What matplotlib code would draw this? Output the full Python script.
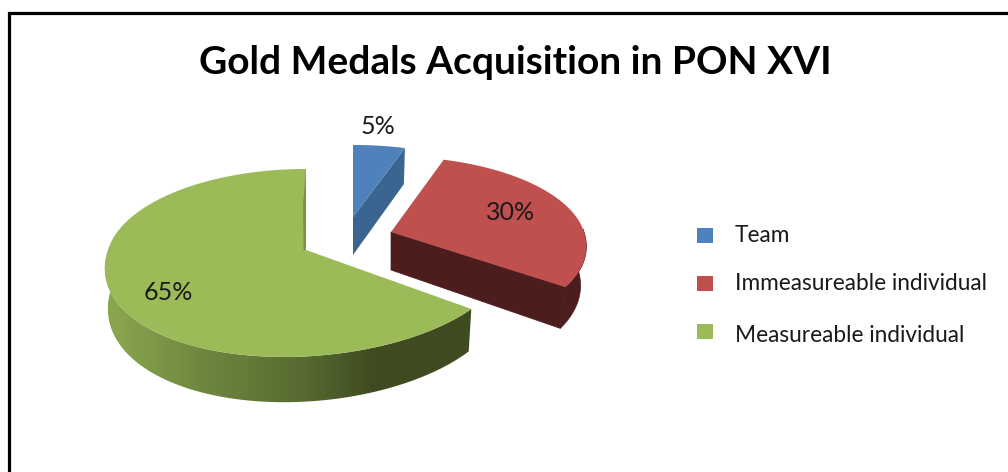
import numpy as np
import matplotlib
matplotlib.use('Agg')
import matplotlib.pyplot as plt
from matplotlib.patches import Polygon, Rectangle
from matplotlib.colors import to_rgb

title = 'Gold Medals Acquisition in PON XVI'
categories = ['Team', 'Immeasureable individual', 'Measureable individual']
values = [5, 30, 65]
labels = ['5%', '30%', '65%']

top_colors = ['#4f81bd', '#c0504d', '#9bbb59']
side_colors = ['#3b6591', '#4c1d1c', '#3f4b20']

plt.rcParams['font.family'] = ['Lato', 'DejaVu Sans']
TEXT = '#1a1a1a'
K = 0.138  # perspective of the tilted pie


def project(t, tip, rx, ry, near_shear=0.0, drop=0.0, squeeze=1.0):
    # t is degrees clockwise from 12 o'clock
    t = np.radians(np.asarray(t, dtype=float))
    u, v = np.sin(t), np.cos(t)
    w = 1 / (1 + K * v)
    y = ry * -v * w
    x = tip[0] + rx * squeeze * u * w + near_shear * (np.maximum(y, 0) / 107) ** 1.5
    return x, tip[1] + y + drop * w


def pts(x, y):
    return np.column_stack([x, y])


fig = plt.figure(figsize=(10.08, 4.72), dpi=100)
ax = fig.add_axes([0, 0, 1, 1])

# frame around the chart, open on the right and at the bottom
ax.plot([8.5, 8.5, 1008], [472, 12.5, 12.5], color='black', lw=2.3, solid_capstyle='butt', solid_joinstyle='miter')

edges = np.cumsum([0] + values) * 3.6

# green slice
tip = (306, 250)
args = dict(tip=tip, rx=198, ry=92.2, near_shear=-22)
t0, t1 = edges[2], edges[3]
tr = np.linspace(t0, 270, 120)
rim_top = pts(*project(tr, **args))
rim_bot = pts(*project(tr, drop=39, squeeze=0.985, **args))
rim = Polygon(np.vstack([rim_top, rim_bot[::-1]]), closed=True, transform=ax.transData, fc='none', ec='none')
ax.add_patch(rim)
xs = np.linspace(100, 475, 200)
stops_x = [105, 200, 300, 375, 475]
stops_c = np.array([to_rgb(c) for c in ['#8ba850', '#6f8840', '#586c32', side_colors[2], side_colors[2]]])
grad = np.stack([np.interp(xs, stops_x, stops_c[:, i]) for i in range(3)], axis=-1)[None, :, :]
im = ax.imshow(grad, extent=(100, 475, 410, 250), aspect='auto', zorder=1, interpolation='bilinear')
im.set_clip_path(rim)
tg = np.linspace(t0, t1, 200)
x, y = project(tg, **args)
ax.add_patch(Polygon(np.vstack([pts(x, y), tip]), closed=True, fc=top_colors[2], ec='none', zorder=2))
# thin inner wall next to the 12 o'clock cut
x0, y0 = project(360, **args)
ax.add_patch(Polygon([(x0, y0), tip, (tip[0] - 2.5, tip[1]), (x0 - 3, y0 + 35)], closed=True, fc='#7a9546', ec='none', zorder=3))

# red slice
tip = (391, 232)
args = dict(tip=tip, rx=193, ry=86, near_shear=12)
t0, t1 = edges[1], edges[2]
tr = np.linspace(88, t1, 60)
x, y = project(tr, **args)
xb, yb = project(tr, drop=38, squeeze=0.97, **args)
ax.add_patch(Polygon(np.vstack([pts(x, y), pts(xb, yb)[::-1]]), closed=True, fc=side_colors[1], ec=side_colors[1], lw=0.5, zorder=2))
xe, ye = project(t1, **args)
xf, yf = project(t1, drop=38, squeeze=0.97, **args)
ax.add_patch(Polygon([tip, (xe, ye), (xf, yf), (tip[0], tip[1] + 38)], closed=True, fc=side_colors[1], ec=side_colors[1], lw=0.5, zorder=2))
tg = np.linspace(t0, t1, 100)
x, y = project(tg, **args)
ax.add_patch(Polygon(np.vstack([pts(x, y), tip]), closed=True, fc=top_colors[1], ec='none', zorder=3))

# blue slice
tip = (353, 217)
args = dict(tip=tip, rx=190, ry=82)
t0, t1 = edges[0], edges[1]
xe, ye = project(t1, **args)
ax.add_patch(Polygon([tip, (xe, ye), (xe - 1, ye + 36), (tip[0], tip[1] + 38)], closed=True, fc=side_colors[0], ec='none', zorder=2))
tg = np.linspace(t0, t1, 30)
x, y = project(tg, **args)
ax.add_patch(Polygon(np.vstack([pts(x, y), tip]), closed=True, fc=top_colors[0], ec='none', zorder=3))

# data labels
label_pos = [(378, 127), (511, 213), (168, 293)]
for lab, (lx, ly) in zip(labels, label_pos):
    ax.text(lx, ly, lab, ha='center', va='center', fontsize=18, color=TEXT, zorder=5)

# legend
legend_y = [235.5, 283.5, 331.5]
text_y = [236, 284, 335]
for name, color, my, ty in zip(categories, top_colors, legend_y, text_y):
    ax.add_patch(Rectangle((697, my - 7.5), 16, 15, fc=color, ec='none', zorder=5))
    ax.text(735, ty, name, ha='left', va='center', fontsize=16.3, color=TEXT, zorder=5)

ax.text(515, 62, title, ha='center', va='center', fontsize=28, fontweight='bold', color='black', zorder=5)

ax.set_xlim(0, 1008)
ax.set_ylim(472, 0)
ax.axis('off')
fig.savefig('out.png', dpi=100, facecolor='white')
